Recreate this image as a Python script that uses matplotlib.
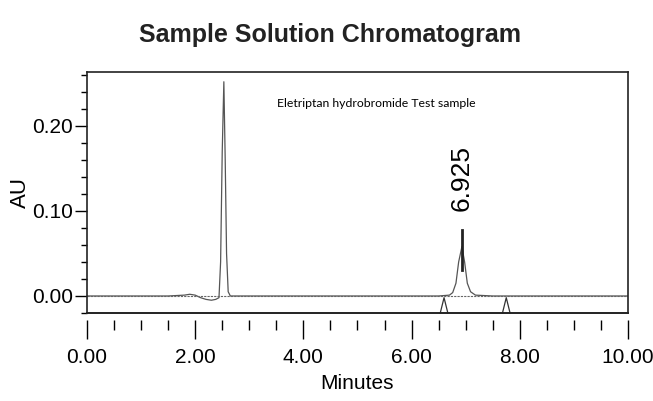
import matplotlib
matplotlib.use("Agg")
import matplotlib.pyplot as plt
from matplotlib.ticker import MultipleLocator, FormatStrFormatter

# trace (minutes, AU)
minutes = [0.00, 0.50, 1.00, 1.50, 1.80, 1.90, 2.00, 2.10, 2.20, 2.30, 2.38, 2.44,
           2.47, 2.50, 2.53, 2.555, 2.58, 2.61, 2.65, 3.00, 4.00, 5.00, 6.00, 6.50,
           6.70, 6.76, 6.82, 6.87, 6.93, 6.98, 7.03, 7.09, 7.18, 7.50, 8.00, 9.00, 10.00]
au = [0.000, 0.000, 0.000, 0.000, 0.001, 0.002, 0.001, -0.002, -0.004, -0.005, -0.004, -0.002,
      0.040, 0.170, 0.252, 0.160, 0.050, 0.005, 0.000, 0.000, 0.000, 0.000, 0.000, 0.000,
      0.001, 0.004, 0.015, 0.040, 0.058, 0.040, 0.015, 0.005, 0.001, 0.000, 0.000, 0.000, 0.000]

# integration event marks on the bottom edge
event_times = [6.60, 7.75]
peak_label = "6.925"
peak_rt = 6.925

plt.rcParams["font.family"] = ["Liberation Sans", "DejaVu Sans"]

fig = plt.figure(figsize=(6.53, 4.01), dpi=100)
ax = fig.add_axes([0.1332, 0.2195, 0.8285, 0.601])

ax.plot(minutes, au, color="#555555", lw=0.9)
ax.axhline(0.0, color="#666666", lw=0.8, ls=(0, (2, 1)))

for t in event_times:
    ax.plot([t - 0.07, t, t + 0.07], [-0.02, -0.002, -0.02], color="#333333", lw=0.9,
            clip_on=False)

ax.plot([peak_rt, peak_rt], [0.031, 0.078], color="#222222", lw=2.0)
ax.text(peak_rt, 0.100, peak_label, rotation=90, ha="center", va="bottom", fontsize=19)

ax.text(5.34, 0.227, "Eletriptan hydrobromide Test sample", ha="center", va="center",
        fontsize=8.8, family=["Lato", "DejaVu Sans"])

ax.set_xlim(0, 10)
ax.set_ylim(-0.02, 0.2635)
ax.xaxis.set_major_locator(MultipleLocator(2))
ax.xaxis.set_minor_locator(MultipleLocator(0.5))
ax.yaxis.set_major_locator(MultipleLocator(0.1))
ax.yaxis.set_minor_locator(MultipleLocator(0.02))
ax.xaxis.set_major_formatter(FormatStrFormatter("%.2f"))
ax.yaxis.set_major_formatter(FormatStrFormatter("%.2f"))

for s in ax.spines.values():
    s.set_linewidth(1.2)
    s.set_color("#222222")
ax.spines["bottom"].set_position(("outward", 5))
ax.spines["bottom"].set_visible(False)
ax.axhline(-0.02, color="#222222", lw=1.4, clip_on=False)

ax.tick_params(axis="x", which="major", length=14, width=1.0, pad=6, labelsize=15)
ax.tick_params(axis="x", which="minor", length=7, width=1.0)
ax.tick_params(axis="y", which="major", length=9, width=1.0, pad=1, labelsize=15)
ax.tick_params(axis="y", which="minor", length=4, width=1.0)

ax.set_xlabel("Minutes", fontsize=15, labelpad=5)
ax.set_ylabel("AU", fontsize=16)
ax.yaxis.set_label_coords(-0.104, 0.5)

fig.text(0.505, 0.913, "Sample Solution Chromatogram", ha="center", va="center",
         fontsize=18, fontweight="bold", color="#222222")

fig.savefig("out.png", dpi=100)
